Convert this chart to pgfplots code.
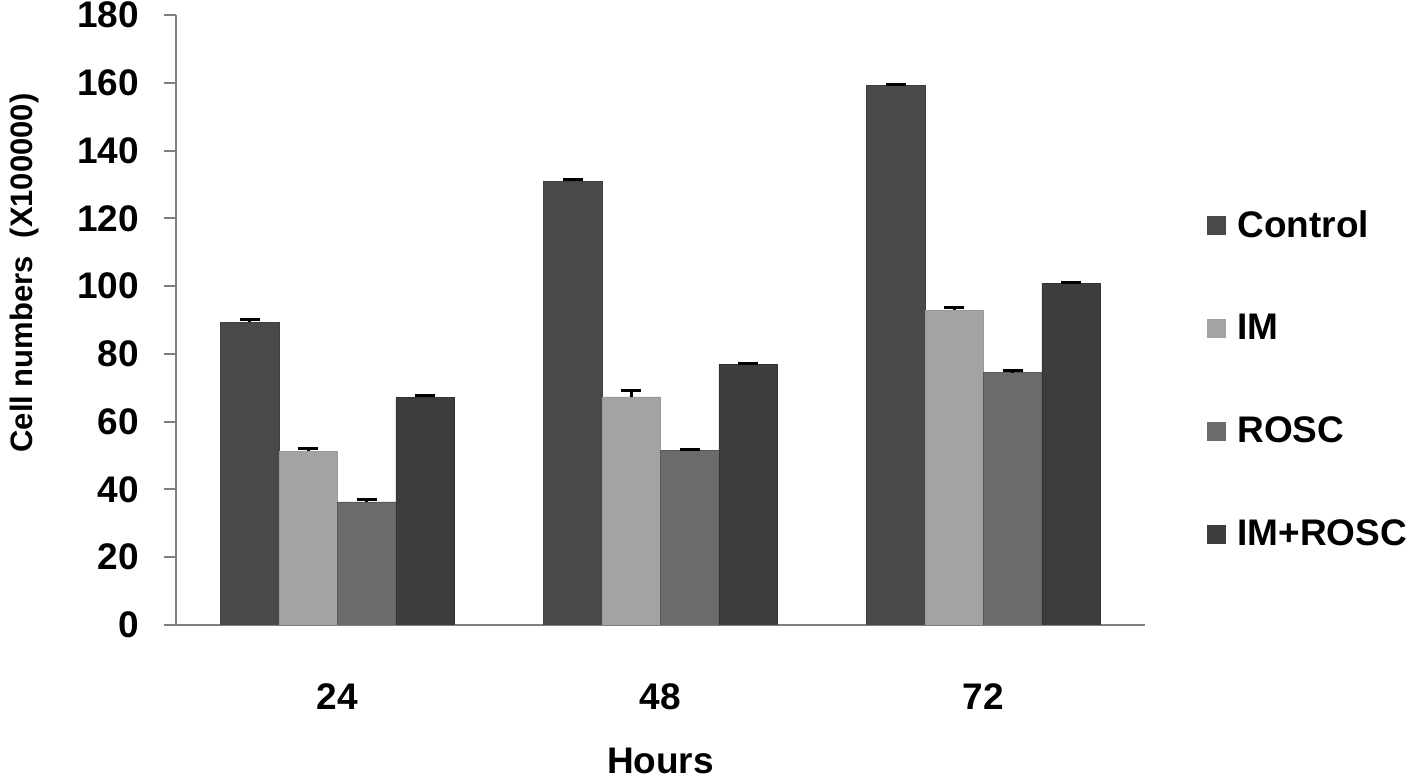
\documentclass[border=0pt]{standalone}
\usepackage{fontspec}
\setmainfont{Liberation Sans}
\usepackage{pgfplots}
\pgfplotsset{compat=1.18}
\definecolor{cctrl}{HTML}{494949}
\definecolor{cim}{HTML}{A3A3A3}
\definecolor{crosc}{HTML}{6B6B6B}
\definecolor{cboth}{HTML}{3D3D3D}
\begin{document}
\begin{tikzpicture}
\begin{axis}[
  scale only axis,
  width=484.5pt, height=305pt,
  xmin=-0.5, xmax=2.5,
  ymin=0, ymax=180,
  ytick={0,20,...,180},
  xtick={0,1,2},
  xticklabels={24,48,72},
  axis x line=bottom, axis y line=left,
  axis line style={draw=black!50, line width=1pt, -},
  tick align=outside,
  major tick length=6pt,
  ytick style={draw=black!50, line width=1pt},
  xtick style={draw=none},
  /pgf/number format/assume math mode=true,
  ticklabel style={font=\fontsize{18.5}{20}\selectfont\bfseries},
  yticklabel style={xshift=-9pt},
  xticklabel style={yshift=-20pt},
  xlabel={Hours},
  xlabel style={at={(axis description cs:0.5,0)}, anchor=center, yshift=-68pt, font=\fontsize{18.5}{20}\selectfont\bfseries},
  ylabel={Cell numbers\hspace{9pt}(X100000)},
  ylabel style={at={(axis description cs:-0.156,0.577)}, anchor=center, font=\fontsize{15.5}{17}\selectfont\bfseries},
  ybar=0pt,
  bar width=29.2pt,
  error bars/y dir=plus, error bars/y explicit,
  error bars/error bar style={black, line width=1.5pt},
  error bars/error mark options={rotate=90, mark size=5pt, line width=1.5pt, black},
  legend style={at={(1.064,0.4025)}, anchor=west, draw=none, fill=none, inner sep=0pt,
    row sep=37pt, font=\fontsize{18.5}{20}\selectfont\bfseries,
    nodes={inner sep=0pt, anchor=west},
    /tikz/every odd column/.append style={column sep=5.5pt}},
  legend cell align=left,
  legend image code/.code={\fill[#1,draw=none] (0pt,-4.75pt) rectangle (9.5pt,4.75pt);},
]
\addplot[fill=cctrl, draw=black!75, line width=0.4pt] coordinates {(0,89.4) +- (0,0.8) (1,131.0) +- (0,0.5) (2,159.2) +- (0,0.3)};
\addplot[fill=cim, draw=black!40, line width=0.4pt] coordinates {(0,51.2) +- (0,0.8) (1,67.3) +- (0,1.8) (2,92.9) +- (0,0.8)};
\addplot[fill=crosc, draw=black!65, line width=0.4pt] coordinates {(0,36.3) +- (0,0.8) (1,51.6) +- (0,0.3) (2,74.4) +- (0,0.8)};
\addplot[fill=cboth, draw=black!80, line width=0.4pt] coordinates {(0,67.2) +- (0,0.6) (1,76.8) +- (0,0.3) (2,100.7) +- (0,0.3)};
\legend{Control,IM,ROSC,IM+ROSC}
\coordinate (bl) at (rel axis cs:0,0);
\coordinate (tr) at (rel axis cs:1,1);
\end{axis}
\pgfresetboundingbox
\path[use as bounding box] ([shift={(-88pt,-77.5pt)}]bl) rectangle ([shift={(136pt,7.5pt)}]tr);
\end{tikzpicture}
\end{document}
